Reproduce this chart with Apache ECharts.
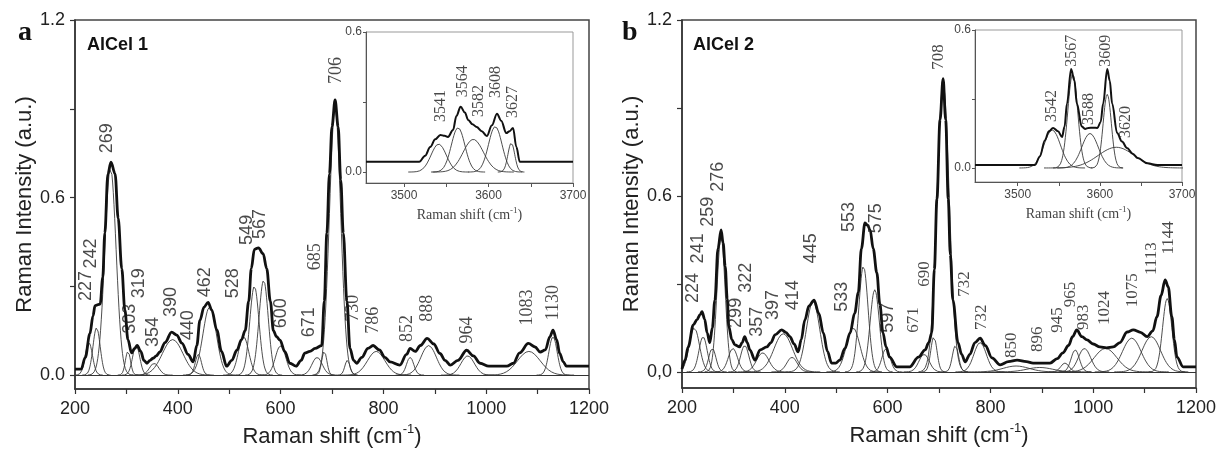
<!DOCTYPE html>
<html><head><meta charset="utf-8">
<script src="https://cdn.jsdelivr.net/npm/echarts@6/dist/echarts.min.js"></script>
<style>html,body{margin:0;padding:0;background:#fff}#c{width:1217px;height:453px}</style>
</head><body><div id="c"></div>
<script>
// ---------- DATA ----------
const spectrumA = [[200,0.02],[212,0.02],[220,0.06],[229,0.14],[235,0.2],[239,0.235],[249,0.24],[254,0.33],[258,0.48],[264,0.68],[270,0.72],[278,0.68],[284,0.53],[291,0.36],[297,0.22],[303,0.12],[310,0.075],[316,0.09],[321,0.1],[328,0.08],[334,0.05],[340,0.04],[346,0.05],[352,0.057],[358,0.065],[365,0.078],[375,0.11],[388,0.145],[398,0.135],[408,0.108],[420,0.07],[430,0.045],[437,0.1],[443,0.185],[451,0.23],[459,0.246],[466,0.22],[476,0.152],[485,0.08],[495,0.03],[505,0.05],[515,0.084],[524,0.12],[531,0.15],[538,0.25],[543,0.36],[549,0.425],[557,0.43],[566,0.41],[573,0.36],[580,0.25],[586,0.15],[592,0.13],[599,0.118],[608,0.08],[618,0.04],[630,0.03],[640,0.05],[647,0.074],[657,0.08],[667,0.09],[680,0.1],[685,0.25],[690,0.48],[695,0.68],[700,0.84],[706,0.93],[712,0.84],[717,0.66],[722,0.48],[729,0.25],[735,0.09],[742,0.05],[748,0.04],[758,0.06],[770,0.09],[780,0.1],[792,0.085],[803,0.06],[813,0.045],[832,0.034],[845,0.07],[852,0.09],[862,0.08],[872,0.1],[885,0.124],[898,0.105],[910,0.073],[920,0.05],[930,0.034],[945,0.05],[962,0.084],[975,0.065],[988,0.04],[1005,0.03],[1027,0.03],[1040,0.03],[1053,0.04],[1065,0.075],[1082,0.107],[1095,0.095],[1105,0.078],[1115,0.085],[1124,0.13],[1130,0.152],[1137,0.12],[1143,0.073],[1150,0.045],[1156,0.03],[1200,0.03]];
const spectrumB = [[200,0.01],[206,0.04],[212,0.085],[222,0.16],[229,0.177],[235,0.195],[239,0.205],[244,0.18],[249,0.133],[254,0.1],[259,0.15],[264,0.245],[270,0.42],[276,0.484],[280,0.44],[284,0.36],[288,0.25],[291,0.155],[297,0.11],[303,0.092],[312,0.085],[317,0.1],[322,0.12],[327,0.1],[332,0.075],[342,0.04],[352,0.075],[365,0.085],[373,0.1],[381,0.126],[394,0.143],[402,0.135],[410,0.12],[418,0.095],[426,0.068],[432,0.11],[439,0.177],[447,0.225],[457,0.245],[466,0.2],[475,0.133],[483,0.07],[491,0.03],[499,0.03],[507,0.04],[517,0.08],[527,0.133],[536,0.2],[543,0.27],[549,0.42],[556,0.508],[561,0.5],[566,0.484],[572,0.42],[579,0.338],[585,0.23],[591,0.133],[597,0.085],[604,0.05],[618,0.017],[643,0.017],[660,0.05],[673,0.075],[680,0.1],[686,0.133],[691,0.35],[696,0.59],[702,0.86],[708,1.0],[713,0.86],[718,0.59],[722,0.4],[727,0.245],[737,0.1],[744,0.06],[751,0.034],[760,0.06],[770,0.1],[780,0.115],[790,0.09],[803,0.048],[819,0.024],[835,0.035],[852,0.04],[870,0.035],[883,0.03],[900,0.03],[916,0.03],[930,0.045],[941,0.065],[952,0.09],[960,0.12],[968,0.143],[978,0.12],[988,0.109],[1000,0.095],[1013,0.085],[1026,0.082],[1039,0.085],[1052,0.1],[1066,0.136],[1078,0.143],[1092,0.135],[1105,0.12],[1116,0.14],[1124,0.188],[1132,0.26],[1140,0.314],[1146,0.29],[1153,0.188],[1158,0.11],[1163,0.05],[1175,0.017],[1200,0.017]];
const insetSpectrumA = [[3455,0.044],[3518,0.044],[3525,0.07],[3531,0.107],[3537,0.14],[3543,0.159],[3548,0.155],[3552,0.15],[3558,0.18],[3562,0.24],[3567,0.28],[3572,0.255],[3576,0.223],[3581,0.205],[3586,0.193],[3592,0.175],[3598,0.154],[3604,0.2],[3610,0.25],[3615,0.22],[3621,0.167],[3625,0.175],[3629,0.189],[3633,0.107],[3637,0.044],[3700,0.044]];
const insetSpectrumB = [[3448,0.013],[3521,0.013],[3527,0.05],[3533,0.12],[3538,0.16],[3543,0.174],[3549,0.16],[3554,0.135],[3557,0.18],[3560,0.28],[3565,0.43],[3569,0.38],[3572,0.28],[3578,0.18],[3582,0.17],[3586,0.174],[3592,0.175],[3597,0.174],[3601,0.2],[3604,0.28],[3609,0.43],[3612,0.38],[3615,0.28],[3621,0.152],[3627,0.115],[3633,0.087],[3640,0.062],[3646,0.043],[3658,0.02],[3670,0.013],[3700,0.013]];

// fitted Gaussian components: centre, height, sigma
const compA_center = [227,242,269,303,319,354,390,440,462,528,549,567,600,671,685,706,730,786,852,888,964,1083,1130];
const compA_height = [0.11,0.16,0.70,0.08,0.10,0.04,0.12,0.07,0.23,0.13,0.30,0.32,0.10,0.06,0.08,0.90,0.05,0.08,0.06,0.10,0.065,0.08,0.13];
const compA_sigma  = [7,7,11,5,7,9,20,6,13,10,9,9,10,10,5,11,5,17,7,15,13,22,8];
const compB_center = [224,241,259,276,299,322,357,397,414,455,533,553,575,597,671,690,708,732,780,850,896,945,965,983,1024,1075,1113,1144];
const compB_height = [0.15,0.12,0.08,0.46,0.08,0.09,0.065,0.13,0.05,0.24,0.15,0.36,0.28,0.08,0.06,0.12,0.98,0.09,0.10,0.02,0.015,0.03,0.075,0.08,0.08,0.115,0.12,0.25];
const compB_sigma  = [10,8,7,8,9,8,12,18,10,13,13,9,9,8,10,6,12,6,12,25,25,8,8,12,22,18,18,9];
const insetCompA_center = [3541,3564,3582,3608,3627];
const insetCompA_height = [0.12,0.19,0.14,0.195,0.125];
const insetCompA_sigma  = [9,8,12,8,4];
const insetCompB_center = [3542,3567,3588,3609,3620];
const insetCompB_height = [0.165,0.41,0.15,0.32,0.09];
const insetCompB_sigma  = [10,6,10,5,22];

// peak labels: [text, x, y-of-text-start]
const labelsA_sans = [[227,222,0.25],[242,232,0.36],[269,263,0.75],[303,307,0.14],[319,325,0.26],[354,352,0.095],[390,386,0.196],[440,419,0.118],[462,453,0.263],[528,508,0.26],[549,534,0.44],[567,560,0.46],[600,600,0.158],[671,655,0.128]];
const labelsA_serif = [[685,667,0.354],[706,708,0.984],[730,741,0.18],[786,780,0.14],[852,846,0.112],[888,885,0.18],[964,963,0.107],[1083,1080,0.168],[1130,1131,0.185]];
const labelsB_sans = [[224,221,0.235],[241,232,0.37],[259,251,0.495],[276,270,0.614],[299,305,0.15],[322,324,0.27],[357,346,0.12],[397,377,0.177],[414,416,0.21],[445,451,0.37],[533,511,0.205],[553,525,0.477],[575,577,0.473],[597,601,0.133]];
const labelsB_serif = [[671,651,0.133],[690,671,0.29],[708,700,1.03],[732,749,0.256],[732,782,0.143],[850,842,0.047],[896,891,0.068],[945,930,0.133],[965,955,0.22],[983,982,0.143],[1024,1023,0.16],[1075,1076,0.22],[1113,1114,0.33],[1144,1146,0.40]];
const insetLabelsA = [[3541,3544,0.214],[3564,3569,0.32],[3582,3588,0.236],[3608,3609,0.317],[3627,3629,0.231]];
const insetLabelsB = [[3542,3542,0.2],[3567,3566,0.44],[3588,3587,0.187],[3609,3607,0.44],[3620,3632,0.13]];

const mainXTicks = [200,300,400,500,600,700,800,900,1000,1100,1200];
const mainXLabels = [200,400,600,800,1000,1200];
const mainYTicks = [0,0.3,0.6,0.9,1.2];
const mainYLabels = [0,0.6,1.2];
const insetXTicks = [3500,3550,3600,3650,3700];
const insetXLabels = [3500,3600,3700];
const insetYTicks = [0,0.3,0.6];
const insetYLabels = [0,0.6];

// ---------- CHART ----------
const SANS = 'Liberation Sans, Arial, sans-serif';
const SERIF = 'Liberation Serif, Times New Roman, serif';
const chart = echarts.init(document.getElementById('c'), null, {renderer: 'canvas'});

function gaussSeries(c, h, s) {
  const pts = [];
  const step = s / 8;
  for (let x = c - 4 * s; x <= c + 4 * s + 1e-9; x += step) {
    pts.push([x, h * Math.exp(-0.5 * ((x - c) / s) ** 2)]);
  }
  return pts;
}

const series = [];
function addPanel(gi, spec, cc, ch, cs, labelSets, z, mainWidth) {
  cc.forEach((c, i) => {
    series.push({type: 'line', xAxisIndex: gi, yAxisIndex: gi, data: gaussSeries(c, ch[i], cs[i]),
      showSymbol: false, silent: true, z: z, smooth: false,
      lineStyle: {color: '#3a3a3a', width: 0.9}});
  });
  series.push({type: 'line', xAxisIndex: gi, yAxisIndex: gi, data: spec, showSymbol: false,
    smooth: 0.35, smoothMonotone: 'x', z: z + 1, silent: true,
    lineStyle: {color: '#111', width: mainWidth},
    markLine: {silent: true, symbol: 'none', label: {show: false},
      lineStyle: {color: '#333', width: 1.2, type: 'solid'}, data: [{yAxis: 0}]}});
  labelSets.forEach(ls => {
    series.push({type: 'scatter', xAxisIndex: gi, yAxisIndex: gi, z: z + 2, silent: true,
      data: ls.data.map(l => [l[1], l[2], String(l[0])]),
      symbolSize: 0, itemStyle: {color: 'rgba(0,0,0,0)'},
      label: {show: true, position: 'inside', rotate: 90, align: 'left', verticalAlign: 'middle',
        formatter: p => p.value[2], fontFamily: ls.font, fontSize: ls.size, color: '#1a1a1a'}});
  });
}

addPanel(0, spectrumA, compA_center, compA_height, compA_sigma,
  [{data: labelsA_sans, font: SANS, size: 18}, {data: labelsA_serif, font: SERIF, size: 18}], 2, 2.8);
addPanel(1, insetSpectrumA, insetCompA_center, insetCompA_height, insetCompA_sigma,
  [{data: insetLabelsA, font: SERIF, size: 16}], 12, 2);
addPanel(2, spectrumB, compB_center, compB_height, compB_sigma,
  [{data: labelsB_sans, font: SANS, size: 18}, {data: labelsB_serif, font: SERIF, size: 17}], 2, 2.8);
addPanel(3, insetSpectrumB, insetCompB_center, insetCompB_height, insetCompB_sigma,
  [{data: insetLabelsB, font: SERIF, size: 16}], 12, 2);

const plain = v => String(v);
function mainX(gi) {
  return {type: 'value', gridIndex: gi, min: 200, max: 1200, interval: 100,
    axisLine: {show: true, onZero: false, lineStyle: {color: '#333', width: 1.5}},
    axisTick: {show: true, length: 5, customValues: mainXTicks, lineStyle: {color: '#333', width: 1.2}},
    axisLabel: {customValues: mainXLabels, formatter: plain, fontFamily: SANS, fontSize: 18, color: '#222', margin: 11},
    splitLine: {show: false},
    name: 'Raman shift (cm{sup|-1})', nameLocation: 'middle', nameGap: 34,
    nameTextStyle: {fontFamily: SANS, fontSize: 22, color: '#222',
      rich: {sup: {fontFamily: SANS, fontSize: 13, color: '#222', padding: [0, 0, 14, 0]}}}};
}
function mainY(gi, min, zeroText) {
  return {type: 'value', gridIndex: gi, min: min, max: 1.2,
    axisLine: {show: true, lineStyle: {color: '#333', width: 1.5}},
    axisTick: {show: true, length: 5, customValues: mainYTicks, lineStyle: {color: '#333', width: 1.2}},
    axisLabel: {customValues: mainYLabels, fontFamily: SANS, fontSize: 18, color: '#222', margin: 10,
      formatter: v => (Math.abs(v) < 1e-9 ? zeroText : v.toFixed(1))},
    splitLine: {show: false},
    name: 'Raman Intensity (a.u.)', nameLocation: 'middle', nameGap: 38,
    nameTextStyle: {fontFamily: SANS, fontSize: 22, color: '#222'}};
}
function insetX(gi, min) {
  return {type: 'value', gridIndex: gi, min: min, max: 3700, z: 13,
    axisLine: {show: true, onZero: false, lineStyle: {color: '#555', width: 1}},
    axisTick: {show: true, length: 4, customValues: insetXTicks, lineStyle: {color: '#555'}},
    axisLabel: {customValues: insetXLabels, formatter: plain, fontFamily: SANS, fontSize: 12, color: '#444', margin: 7},
    splitLine: {show: false},
    name: 'Raman shift (cm{sup|-1})', nameLocation: 'middle', nameGap: 23,
    nameTextStyle: {fontFamily: SERIF, fontSize: 14, color: '#444',
      rich: {sup: {fontFamily: SERIF, fontSize: 9, color: '#444', padding: [0, 0, 9, 0]}}}};
}
function insetY(gi, min) {
  return {type: 'value', gridIndex: gi, min: min, max: 0.6, z: 13,
    axisLine: {show: true, lineStyle: {color: '#555', width: 1}},
    axisTick: {show: true, length: 3, customValues: insetYTicks, lineStyle: {color: '#555'}},
    axisLabel: {customValues: insetYLabels, fontFamily: SANS, fontSize: 12, color: '#444', margin: 4,
      formatter: v => v.toFixed(1)},
    splitLine: {show: false}};
}

const option = {
  backgroundColor: '#fff',
  animation: false,
  grid: [
    {left: 75, top: 20, width: 514, height: 369, outerBoundsMode: 'none', containLabel: false, show: true, borderColor: '#444', borderWidth: 1.5, backgroundColor: 'transparent', z: 0},
    {left: 366, top: 32, width: 207, height: 151, outerBoundsMode: 'none', containLabel: false, show: true, borderColor: '#999', borderWidth: 1, backgroundColor: '#fff', z: 10},
    {left: 682, top: 20, width: 514, height: 368, outerBoundsMode: 'none', containLabel: false, show: true, borderColor: '#444', borderWidth: 1.5, backgroundColor: 'transparent', z: 0},
    {left: 975, top: 30, width: 207, height: 152, outerBoundsMode: 'none', containLabel: false, show: true, borderColor: '#999', borderWidth: 1, backgroundColor: '#fff', z: 10}
  ],
  xAxis: [mainX(0), insetX(1, 3455), mainX(2), insetX(3, 3448)],
  yAxis: [mainY(0, -0.047, '0.0'), insetY(1, -0.047), mainY(2, -0.055, '0,0'), insetY(3, -0.061)],
  title: [
    {text: 'a', left: 13, top: 14, textStyle: {fontFamily: SERIF, fontWeight: 'bold', fontSize: 28, color: '#111'}},
    {text: 'AlCel 1', left: 82, top: 31, textStyle: {fontFamily: SANS, fontWeight: 'bold', fontSize: 18, color: '#111'}},
    {text: 'b', left: 617, top: 14, textStyle: {fontFamily: SERIF, fontWeight: 'bold', fontSize: 28, color: '#111'}},
    {text: 'AlCel 2', left: 688, top: 31, textStyle: {fontFamily: SANS, fontWeight: 'bold', fontSize: 18, color: '#111'}}
  ],
  series: series
};
chart.setOption(option);
</script>
</body></html>
